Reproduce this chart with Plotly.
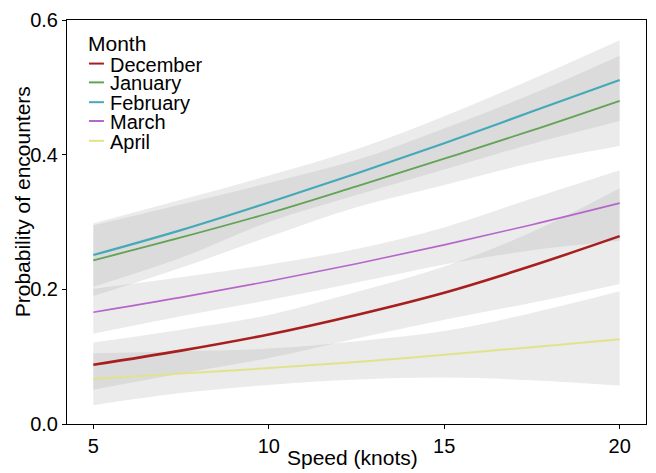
import plotly.graph_objects as go

speed = [5, 7.5, 10, 12.5, 15, 17.5, 20]
months = ["December", "January", "February", "March", "April"]

dec_fit = [0.088, 0.109, 0.133, 0.162, 0.195, 0.235, 0.279]
dec_lo = [0.051, 0.075, 0.098, 0.127, 0.155, 0.180, 0.208]
dec_hi = [0.121, 0.140, 0.162, 0.196, 0.234, 0.285, 0.350]

jan_fit = [0.243, 0.277, 0.313, 0.353, 0.394, 0.436, 0.480]
jan_lo = [0.190, 0.232, 0.278, 0.322, 0.355, 0.388, 0.413]
jan_hi = [0.295, 0.326, 0.358, 0.392, 0.439, 0.490, 0.547]

feb_fit = [0.251, 0.288, 0.329, 0.372, 0.417, 0.464, 0.511]
feb_lo = [0.204, 0.247, 0.300, 0.340, 0.378, 0.416, 0.450]
feb_hi = [0.298, 0.333, 0.369, 0.408, 0.457, 0.512, 0.570]

mar_fit = [0.166, 0.188, 0.212, 0.238, 0.266, 0.296, 0.328]
mar_lo = [0.134, 0.160, 0.184, 0.210, 0.237, 0.258, 0.272]
mar_hi = [0.201, 0.218, 0.237, 0.260, 0.292, 0.335, 0.377]

apr_fit = [0.067, 0.075, 0.083, 0.092, 0.103, 0.114, 0.126]
apr_lo = [0.028, 0.046, 0.058, 0.066, 0.069, 0.065, 0.057]
apr_hi = [0.105, 0.108, 0.112, 0.123, 0.138, 0.165, 0.197]

x_ticks = [5, 10, 15, 20]
y_ticks = [0.0, 0.2, 0.4, 0.6]

colors = ["#a81e1e", "#62a355", "#45a9b8", "#b567c9", "#e3e28c"]
widths = [2.6, 1.8, 2.2, 1.6, 2.0]

fits = [dec_fit, jan_fit, feb_fit, mar_fit, apr_fit]
los = [dec_lo, jan_lo, feb_lo, mar_lo, apr_lo]
his = [dec_hi, jan_hi, feb_hi, mar_hi, apr_hi]

FONT = "Liberation Sans, Arial, Helvetica, sans-serif"

fig = go.Figure()

for lo, hi in zip(los, his):
    fig.add_trace(go.Scatter(
        x=speed, y=lo, mode="lines", line=dict(width=0, shape="spline"),
        hoverinfo="skip", showlegend=False))
    fig.add_trace(go.Scatter(
        x=speed, y=hi, mode="lines", line=dict(width=0, shape="spline"),
        fill="tonexty", fillcolor="rgba(153,153,153,0.2)",
        hoverinfo="skip", showlegend=False))

for name, fit, c, w in zip(months, fits, colors, widths):
    fig.add_trace(go.Scatter(
        x=speed, y=fit, mode="lines", name=name, showlegend=False,
        line=dict(color=c, width=w, shape="spline")))

axis_common = dict(
    showgrid=False, zeroline=False, showline=True, linecolor="black",
    linewidth=1, mirror=True, ticks="outside", ticklen=4, tickcolor="black",
    tickfont=dict(size=20, color="black", family=FONT),
)

fig.update_xaxes(range=[4.25, 20.75], tickvals=x_ticks, **axis_common)
fig.update_yaxes(range=[0, 0.6], tickvals=y_ticks, tickformat=".1f", **axis_common)

# Plot area geometry (pixels) used to place titles / legend in paper coordinates
L, R, T, B = 67, 647, 16, 424
def px(xp):
    return (xp - L) / (R - L)
def py(yp):
    return (B - yp) / (B - T)

annotations = [
    dict(text="Speed (knots)", x=px(353), y=py(458), xref="paper", yref="paper",
         showarrow=False, xanchor="center", yanchor="middle",
         font=dict(size=21, color="black", family=FONT)),
    dict(text="Probability of encounters", x=px(22), y=py(200), xref="paper", yref="paper",
         showarrow=False, xanchor="center", yanchor="middle", textangle=-90,
         font=dict(size=21, color="black", family=FONT)),
    dict(text="Month", x=px(86), y=py(40), xref="paper", yref="paper",
         showarrow=False, xanchor="left", yanchor="middle",
         font=dict(size=21, color="black", family=FONT)),
]
shapes = []
entry_y = [61, 80, 100, 119, 139]
for name, c, ey in zip(months, colors, entry_y):
    annotations.append(dict(
        text=name, x=px(108), y=py(ey), xref="paper", yref="paper",
        showarrow=False, xanchor="left", yanchor="middle",
        font=dict(size=20, color="black", family=FONT)))
    shapes.append(dict(
        type="line", xref="paper", yref="paper",
        x0=px(89), x1=px(104), y0=py(ey - 1), y1=py(ey - 1),
        line=dict(color=c, width=2)))

fig.update_layout(
    width=656, height=473,
    margin=dict(l=L, r=656 - R, t=T, b=473 - B),
    plot_bgcolor="white", paper_bgcolor="white",
    font=dict(family=FONT, color="black"),
    showlegend=False,
    annotations=annotations, shapes=shapes,
)

fig.write_html(
    "out.html",
    config={"displayModeBar": False},
    post_script="document.body.style.margin='0';document.body.style.overflow='hidden';",
)
